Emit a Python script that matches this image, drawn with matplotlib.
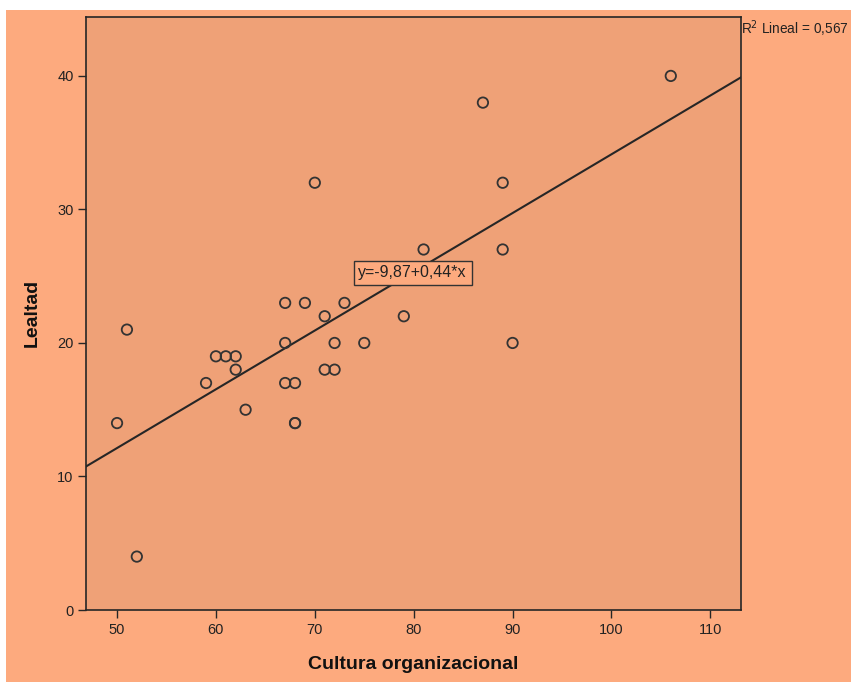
import numpy as np
import matplotlib.pyplot as plt
from matplotlib.patches import Rectangle

# --- data ---
cultura = [50, 51, 52, 59, 60, 61, 62, 62, 63, 67, 67, 67, 68, 68, 68,
           69, 70, 71, 71, 72, 72, 73, 75, 79, 81, 87, 89, 89, 90, 106]
lealtad = [14, 21, 4, 17, 19, 19, 19, 18, 15, 23, 20, 17, 17, 14, 14,
           23, 32, 22, 18, 20, 18, 23, 20, 22, 27, 38, 32, 27, 20, 40]
intercept, slope = -9.87, 0.44
r2 = 0.567
x_ticks = [50, 60, 70, 80, 90, 100, 110]
y_ticks = [0, 10, 20, 30, 40]

outer = '#fdaa7e'
inner = '#efa177'
dark = '#262626'
fam = ['Liberation Sans Narrow', 'Liberation Sans', 'DejaVu Sans']

fig = plt.figure(figsize=(8.51, 6.82), dpi=100)
fig.patch.set_facecolor('white')
fig.patches.append(Rectangle((6 / 851, 0), 1, 1 - 10 / 682, transform=fig.transFigure,
                             facecolor=outer, edgecolor='none', zorder=-10))

ax = fig.add_axes([86 / 851, 1 - 610 / 682, 655 / 851, 593.5 / 682])
ax.set_facecolor(inner)

x0, x1 = 46.86, 113.1
ax.set_xlim(x0, x1)
ax.set_ylim(0, 44.45)

ax.scatter(cultura, lealtad, s=56, facecolors='none', edgecolors='#333333',
           linewidths=1.3, zorder=3)

xs = np.array([x0, x1])
ax.plot(xs, intercept + slope * xs, color=dark, lw=1.5, zorder=2)

ax.text(79.9, 25.25, 'y=-9,87+0,44*x', family=fam, fontsize=11.5, color='#222222',
        ha='center', va='center', zorder=4,
        bbox=dict(boxstyle='square,pad=0.3', facecolor=outer, edgecolor='#333333', lw=1))

# R² label squeezed against the right edge, as in the reference
fig.text(741 / 851, 1 - 29 / 682, 'R$^2$ Lineal = ' + f'{r2:.3f}'.replace('.', ','),
         family=['Liberation Sans', 'DejaVu Sans'], fontsize=9.8, color='#222222',
         ha='left', va='center')

ax.set_xticks(x_ticks)
ax.set_yticks(y_ticks)
ax.tick_params(direction='out', length=6, width=1, color=dark, labelsize=10.5,
               labelcolor='#222222', pad=3)
for lab in ax.get_xticklabels() + ax.get_yticklabels():
    lab.set_family(fam)

for s in ax.spines.values():
    s.set_color(dark)
    s.set_linewidth(1.2)

ax.set_xlabel('Cultura organizacional', family=fam, fontsize=14, fontweight='bold',
              color='#111111', labelpad=14)
ax.set_ylabel('Lealtad', family=fam, fontsize=14, fontweight='bold',
              color='#111111', labelpad=12)

fig.savefig('out.png', dpi=100, facecolor=fig.get_facecolor())
